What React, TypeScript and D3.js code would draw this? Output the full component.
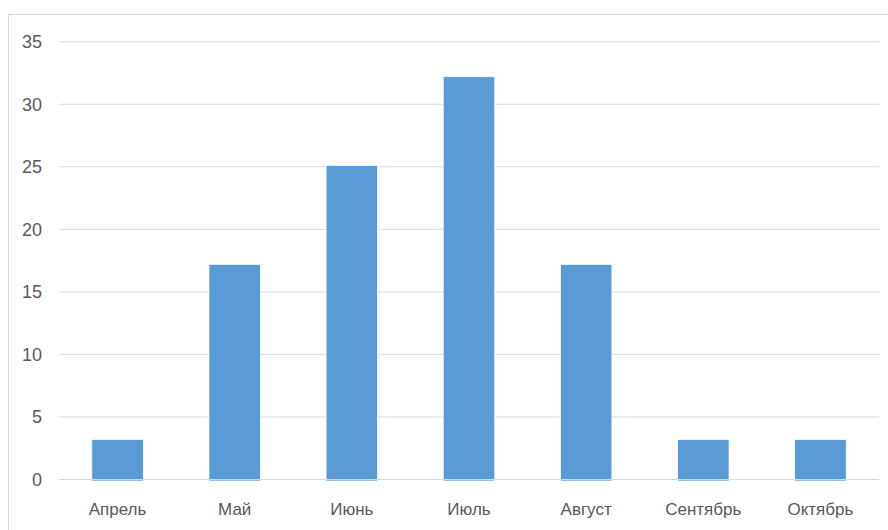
import React from "react";
import * as d3 from "d3";

const months = ["Апрель", "Май", "Июнь", "Июль", "Август", "Сентябрь", "Октябрь"];
const counts = [3.2, 17.2, 25.1, 32.2, 17.2, 3.2, 3.2];
const yTicks = [0, 5, 10, 15, 20, 25, 30, 35];

const W = 888;
const H = 530;
const plot = { left: 59, right: 879, top: 41.7, bottom: 479.5 };
const FONT = "'Liberation Sans Narrow', 'Liberation Sans', 'DejaVu Sans Condensed', sans-serif";

export default function App() {
  const x = d3.scaleBand<string>().domain(months).range([plot.left, plot.right]).padding(0);
  const y = d3.scaleLinear().domain([0, 35]).range([plot.bottom, plot.top]);
  const barW = x.bandwidth() * 0.44;

  return (
    <svg
      width={W}
      height={H}
      style={{ position: "absolute", left: 0, top: 0, background: "#fff" }}
    >
      {/* chart frame */}
      <rect x={8.5} y={14.5} width={W + 20} height={H + 20} fill="#fff" stroke="#d9d9d9" strokeWidth={1} />

      {/* gridlines */}
      {yTicks.filter((t) => t > 0).map((t) => (
        <line key={t} x1={plot.left} x2={plot.right} y1={y(t)} y2={y(t)} stroke="#d9d9d9" strokeWidth={1} />
      ))}

      {/* y tick labels */}
      {yTicks.map((t) => (
        <text
          key={t}
          x={42}
          y={y(t)}
          dy="0.36em"
          textAnchor="end"
          fontFamily={FONT}
          fontSize={18}
          fill="#595959"
        >
          {t}
        </text>
      ))}

      {/* bars */}
      {months.map((m, i) => {
        const cx = (x(m) as number) + x.bandwidth() / 2;
        return (
          <rect
            key={m}
            x={cx - barW / 2}
            y={y(counts[i])}
            width={barW}
            height={y(0) - y(counts[i]) + 1.5}
            fill="#5b9bd5"
            stroke="#ffffff"
            strokeWidth={0.75}
          />
        );
      })}

      {/* baseline */}
      <line x1={plot.left} x2={plot.right} y1={y(0)} y2={y(0)} stroke="#d9d9d9" strokeWidth={1} />

      {/* category labels */}
      {months.map((m) => (
        <text
          key={m}
          x={(x(m) as number) + x.bandwidth() / 2}
          y={515}
          textAnchor="middle"
          fontFamily={FONT}
          fontSize={17}
          fill="#595959"
        >
          {m}
        </text>
      ))}
    </svg>
  );
}
